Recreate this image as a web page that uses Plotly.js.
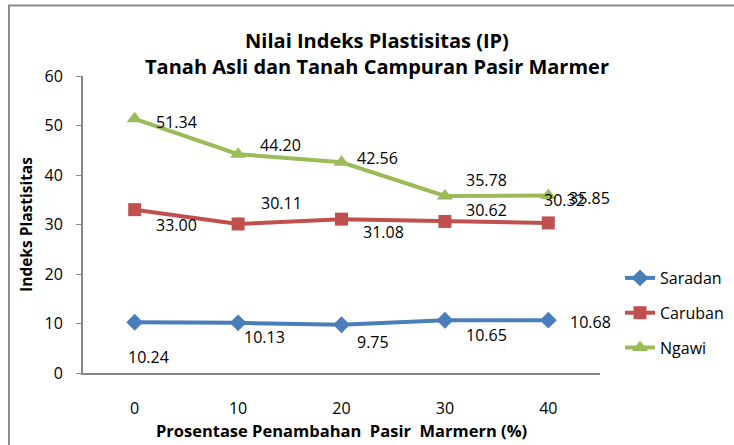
<!DOCTYPE html>
<html>
<head>
<meta charset="utf-8">
<script src="https://cdn.plot.ly/plotly-3.0.1.min.js"></script>
<style>
  html, body { margin: 0; padding: 0; background: #fff; }
  #chart { width: 734px; height: 445px; }
</style>
</head>
<body>
<div id="chart"></div>
<script>
// ---- data ----
const categories = ['0', '10', '20', '30', '40'];
const seriesNames = ['Saradan', 'Caruban', 'Ngawi'];
const saradan = [10.24, 10.13, 9.75, 10.65, 10.68];
const caruban = [33.00, 30.11, 31.08, 30.62, 30.32];
const ngawi = [51.34, 44.20, 42.56, 35.78, 35.85];
const yTicks = [0, 10, 20, 30, 40, 50, 60];

// ---- styling ----
const colors = ['#4A7EBB', '#C0504D', '#9BBB59'];
const symbols = ['diamond', 'square', 'triangle-up'];
const markerSizes = [13, 13, 14];
const FONT = 'Open Sans, sans-serif';

// label offsets in pixels (dx right, dy down) for each series / point
const labelOffsets = [
  [[14, 35], [26, 14], [31, 17], [42, 15], [42, 2]],
  [[42, 15], [43, -21], [42, 13], [42, -11], [16, -23]],
  [[42, 3], [42, -9], [36, -4], [42, -16], [41, 2]]
];

const allSeries = [saradan, caruban, ngawi];

const traces = allSeries.map((vals, i) => ({
  type: 'scatter',
  mode: 'lines+markers',
  name: seriesNames[i],
  x: categories,
  y: vals,
  legendgroup: 'g' + i,
  line: { color: colors[i], width: 4 },
  marker: { color: colors[i], symbol: symbols[i], size: markerSizes[i] },
  hoverinfo: 'x+y'
}));

const annotations = [];
allSeries.forEach((vals, i) => {
  vals.forEach((v, j) => {
    annotations.push({
      x: j, y: v, xref: 'x', yref: 'y',   // j = index of categories[j]
      text: v.toFixed(2), showarrow: false,
      xshift: labelOffsets[i][j][0], yshift: -labelOffsets[i][j][1],
      font: { family: FONT, size: 16, color: '#000' }
    });
  });
});

const W = 734, H = 445;
const margin = { l: 83, r: 134, t: 76, b: 72, autoexpand: false };
const pw = W - margin.l - margin.r, ph = H - margin.t - margin.b;
// outer chart frame (paper coords); right and bottom edges fall outside the image
const fx0 = (9 - margin.l) / pw, fx1 = (745 - margin.l) / pw;
const fy1 = (H - margin.b - 5.5) / ph, fy0 = (H - margin.b - 460) / ph;

const layout = {
  width: W, height: H,
  margin: margin,
  paper_bgcolor: '#fff', plot_bgcolor: '#fff',
  font: { family: FONT, size: 16, color: '#000' },
  title: {
    text: '<b>Nilai Indeks Plastisitas (IP)</b><br><b>Tanah Asli dan Tanah Campuran Pasir Marmer</b>',
    font: { family: FONT, size: 20, color: '#000' },
    x: 377 / W, xanchor: 'center', xref: 'container',
    y: 1 - 48 / H, yanchor: 'top', yref: 'container'
  },
  xaxis: {
    type: 'category',
    range: [-0.5, 4.5],
    showline: true, linecolor: '#868686', linewidth: 2,
    ticks: '', showgrid: false, zeroline: false,
    tickfont: { family: FONT, size: 16, color: '#000' },
    ticklabelstandoff: 20,
    title: {
      text: '<b>Prosentase Penambahan  Pasir  Marmern (%)</b>',
      font: { family: FONT, size: 16.5, color: '#000' },
      standoff: 6
    }
  },
  yaxis: {
    range: [0, 60],
    tickvals: yTicks,
    showline: true, linecolor: '#868686', linewidth: 2,
    ticks: 'outside', ticklen: 5, tickcolor: '#868686', tickwidth: 1,
    showgrid: false, zeroline: false,
    tickfont: { family: FONT, size: 16, color: '#000' },
    ticklabelstandoff: 10,
    title: {
      text: '<b>Indeks Plastisitas</b>',
      font: { family: FONT, size: 15.5, color: '#000' },
      standoff: 8
    }
  },
  legend: {
    x: (620 - margin.l) / pw, xanchor: 'left',
    y: (H - margin.b - 261) / ph, yanchor: 'top',
    traceorder: 'grouped', tracegroupgap: 11,
    font: { family: FONT, size: 16, color: '#000' },
    bgcolor: 'rgba(0,0,0,0)'
  },
  showlegend: true,
  annotations: annotations,
  shapes: [
    { type: 'rect', xref: 'paper', yref: 'paper', x0: fx0, x1: fx1, y0: fy0, y1: fy1,
      line: { color: '#8C8C8C', width: 2 }, fillcolor: 'rgba(0,0,0,0)', layer: 'below' }
  ]
};

Plotly.newPlot('chart', traces, layout, { displayModeBar: false, responsive: false });
</script>
</body>
</html>
